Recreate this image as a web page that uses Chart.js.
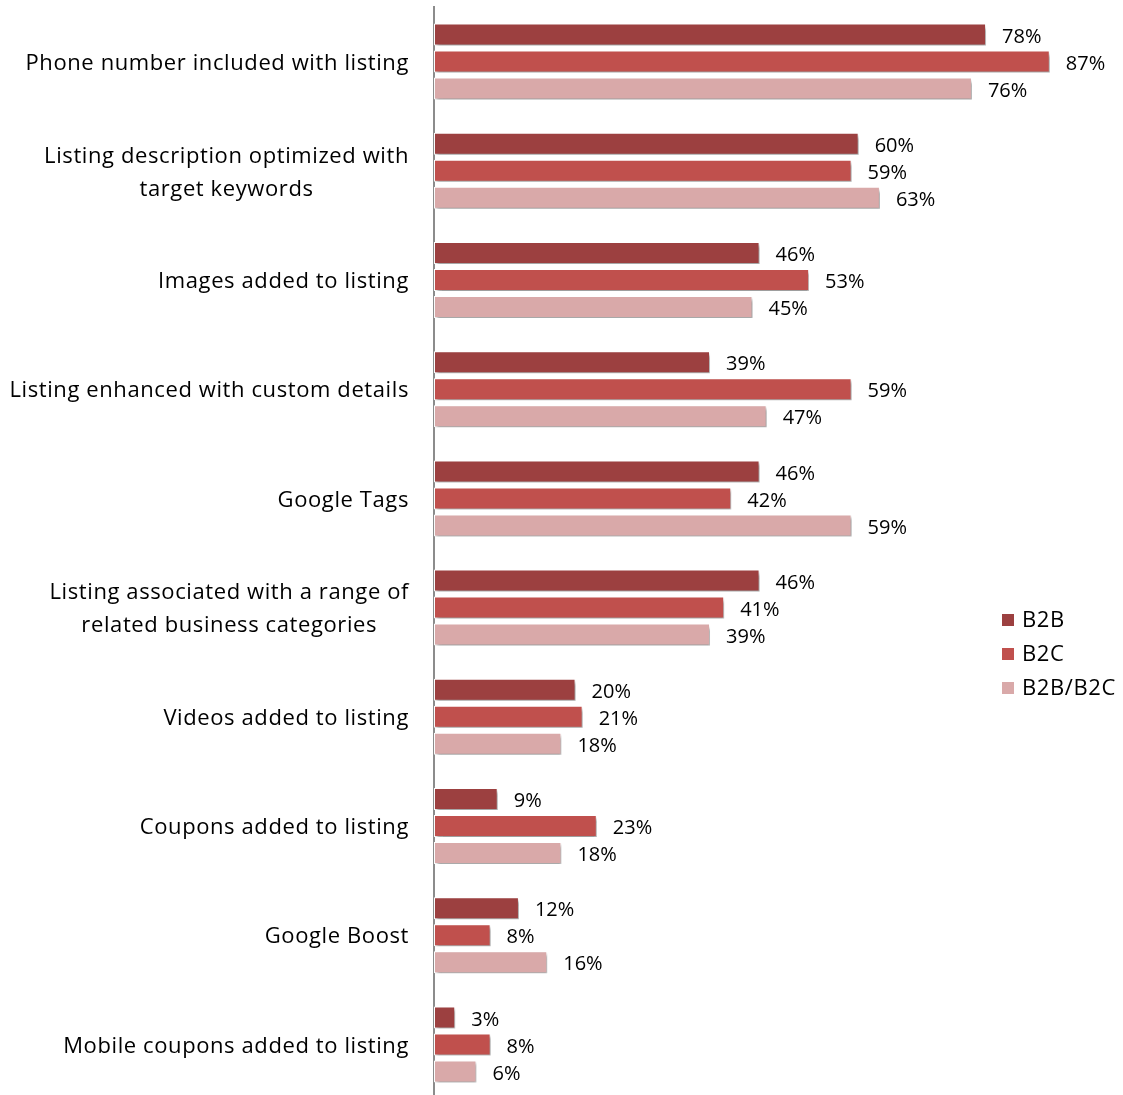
<!DOCTYPE html>
<html>
<head>
<meta charset="utf-8">
<script src="https://cdn.jsdelivr.net/npm/chart.js@4.4.0/dist/chart.umd.min.js"></script>
<style>
  html, body { margin: 0; padding: 0; background: #ffffff; overflow: hidden; }
  #wrap { position: relative; width: 1123px; height: 1099px; }
</style>
</head>
<body>
<div id="wrap"><canvas id="c"></canvas></div>
<script>
const categories = [
  ["Phone number included with listing"],
  ["Listing description optimized with", "target keywords"],
  ["Images added to listing"],
  ["Listing enhanced with custom details"],
  ["Google Tags"],
  ["Listing associated with a range of", "related business categories"],
  ["Videos added to listing"],
  ["Coupons added to listing"],
  ["Google Boost"],
  ["Mobile coupons added to listing"]
];
const seriesNames = ["B2B", "B2C", "B2B/B2C"];
const b2b =    [78, 60, 46, 39, 46, 46, 20, 9, 12, 3];
const b2c =    [87, 59, 53, 59, 42, 41, 21, 23, 8, 8];
const b2bb2c = [76, 63, 45, 47, 59, 39, 18, 18, 16, 6];
const colors = ["#9C4040", "#C0504D", "#D9A9A9"];

const FONT = "'Open Sans'";

const shadowPlugin = {
  id: 'barShadow',
  beforeDatasetsDraw(chart) {
    const ctx = chart.ctx;
    ctx.save();
    ctx.shadowColor = 'rgba(0,0,0,0.38)';
    ctx.shadowOffsetX = 2;
    ctx.shadowOffsetY = 3;
    ctx.shadowBlur = 3;
  },
  afterDatasetsDraw(chart) {
    chart.ctx.restore();
  }
};

const textPlugin = {
  id: 'texts',
  afterDraw(chart) {
    const ctx = chart.ctx;
    const yScale = chart.scales.y;
    ctx.save();
    ctx.fillStyle = '#000';
    ctx.textBaseline = 'middle';
    // category labels
    ctx.font = '22px ' + FONT;
    ctx.letterSpacing = '0.6px';
    const lineH = 33;
    categories.forEach((lines, i) => {
      const cy = yScale.getPixelForValue(i) + 2;
      let maxW = 0;
      lines.forEach(l => { maxW = Math.max(maxW, ctx.measureText(l).width); });
      const rightEdge = chart.chartArea.left - 25;
      const cx = rightEdge - maxW / 2;
      ctx.textAlign = 'center';
      const startY = cy - (lines.length - 1) * lineH / 2;
      lines.forEach((l, k) => ctx.fillText(l, cx, startY + k * lineH));
    });
    // legend
    const lx = 1002, ly0 = 620, lstep = 34;
    ctx.textAlign = 'left';
    seriesNames.forEach((n, i) => {
      const y = ly0 + i * lstep;
      ctx.fillStyle = colors[i];
      ctx.fillRect(lx, y - 6, 12, 12);
      ctx.fillStyle = '#000';
      ctx.fillText(n, lx + 20, y + 1);
    });
    // value labels
    ctx.font = '20px ' + FONT;
    ctx.letterSpacing = '0px';
    chart.data.datasets.forEach((ds, di) => {
      const meta = chart.getDatasetMeta(di);
      meta.data.forEach((bar, i) => {
        ctx.fillText(ds.data[i] + '%', bar.x + 16, bar.y + 2.5);
      });
    });
    ctx.restore();
  }
};

new Chart(document.getElementById('c'), {
  type: 'bar',
  data: {
    labels: categories,
    datasets: [
      { label: seriesNames[0], data: b2b, backgroundColor: colors[0] },
      { label: seriesNames[1], data: b2c, backgroundColor: colors[1] },
      { label: seriesNames[2], data: b2bb2c, backgroundColor: colors[2] }
    ].map(d => Object.assign(d, {
      borderColor: '#ffffff', borderWidth: 1, borderSkipped: false,
      categoryPercentage: 0.742, barPercentage: 0.815
    }))
  },
  options: {
    indexAxis: 'y',
    responsive: true,
    maintainAspectRatio: false,
    animation: false,
    layout: { padding: { left: 426, right: 52, top: 7, bottom: 0 } },
    plugins: { legend: { display: false }, tooltip: { enabled: false } },
    scales: {
      x: { min: 0, max: 90, display: false },
      y: {
        ticks: { display: false },
        grid: { display: false },
        border: { display: true, color: '#8C8C8C', width: 2 }
      }
    }
  },
  plugins: [shadowPlugin, textPlugin]
});
</script>
</body>
</html>
